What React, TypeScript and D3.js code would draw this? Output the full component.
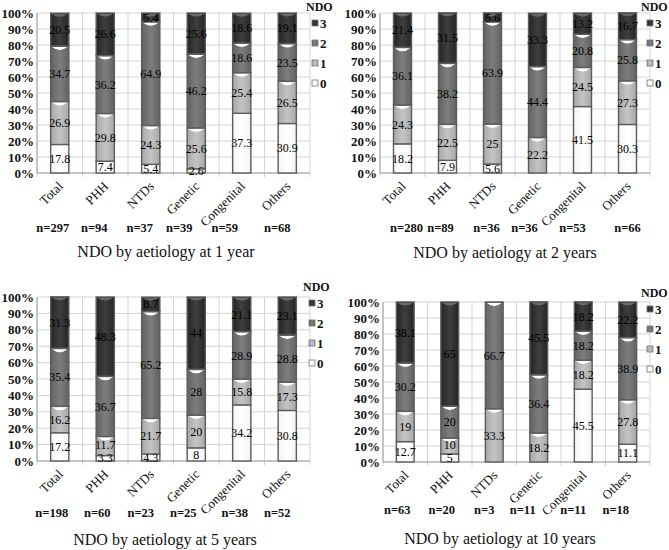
import React from 'react';
import * as d3 from 'd3';

const categories = ['Total', 'PHH', 'NTDs', 'Genetic', 'Congenital', 'Others'];
const ndoLevels = ['0', '1', '2', '3'];
const yTicks = [0, 10, 20, 30, 40, 50, 60, 70, 80, 90, 100];

// NDO by aetiology at 1 year
const y1Ndo0 = [17.8, 7.4, 5.4, 2.6, 37.3, 30.9];
const y1Ndo1 = [26.9, 29.8, 24.3, 25.6, 25.4, 26.5];
const y1Ndo2 = [34.7, 36.2, 64.9, 46.2, 18.6, 23.5];
const y1Ndo3 = [20.5, 26.6, 5.4, 25.6, 18.6, 19.1];
const y1N = [297, 94, 37, 39, 59, 68];

// NDO by aetiology at 2 years
const y2Ndo0 = [18.2, 7.9, 5.6, 0, 41.5, 30.3];
const y2Ndo1 = [24.3, 22.5, 25, 22.2, 24.5, 27.3];
const y2Ndo2 = [36.1, 38.2, 63.9, 44.4, 20.8, 25.8];
const y2Ndo3 = [21.4, 31.5, 5.6, 33.3, 13.2, 16.7];
const y2N = [280, 89, 36, 36, 53, 66];

// NDO by aetiology at 5 years
const y5Ndo0 = [17.2, 3.3, 4.3, 8, 34.2, 30.8];
const y5Ndo1 = [16.2, 11.7, 21.7, 20, 15.8, 17.3];
const y5Ndo2 = [35.4, 36.7, 65.2, 28, 28.9, 28.8];
const y5Ndo3 = [31.3, 48.3, 8.7, 44, 21.1, 23.1];
const y5N = [198, 60, 23, 25, 38, 52];

// NDO by aetiology at 10 years
const y10Ndo0 = [12.7, 5, 0, 0, 45.5, 11.1];
const y10Ndo1 = [19, 10, 33.3, 18.2, 18.2, 27.8];
const y10Ndo2 = [30.2, 20, 66.7, 36.4, 18.2, 38.9];
const y10Ndo3 = [38.1, 65, 0, 45.5, 18.2, 22.2];
const y10N = [63, 20, 3, 11, 11, 18];

const titles = [
  'NDO by aetiology at 1 year',
  'NDO by aetiology at 2 years',
  'NDO by aetiology at 5 years',
  'NDO by aetiology at 10 years',
];

const panelSeries = [
  [y1Ndo0, y1Ndo1, y1Ndo2, y1Ndo3],
  [y2Ndo0, y2Ndo1, y2Ndo2, y2Ndo3],
  [y5Ndo0, y5Ndo1, y5Ndo2, y5Ndo3],
  [y10Ndo0, y10Ndo1, y10Ndo2, y10Ndo3],
];
const panelN = [y1N, y2N, y5N, y10N];

// layout (pixels)
const layouts = [
  { left: 37, right: 310, top: 13, bottom: 173, legX: 306, legY: 7, nY: 232, titleX: 166, titleY: 257, nShift: [-7, -11, -11, -17, -17, -10] },
  { left: 380, right: 650, top: 13, bottom: 173, legX: 641, legY: 7, nY: 232, titleX: 505, titleY: 258, nShift: [4, -7, -6, -13, -10, 0] },
  { left: 37, right: 310, top: 297, bottom: 461, legX: 303, legY: 287, nY: 517, titleX: 165, titleY: 545, nShift: [-8, -8, -10, -13, -7, -10] },
  { left: 383, right: 650, top: 302, bottom: 462, legX: 641, legY: 293, nY: 514, titleX: 500, titleY: 544, nShift: [-8, -8, -10, -16, -10, -12] },
];

const FONT = '"Liberation Serif", "Times New Roman", serif';
const fills = ['url(#g0)', 'url(#g1)', 'url(#g2)', 'url(#g3)'];
const gradStops = [
  ['#f4f4f4', '#ffffff', '#f4f4f4'],
  ['#a8a8a8', '#c4c4c4', '#a8a8a8'],
  ['#626262', '#7e7e7e', '#626262'],
  ['#252525', '#3e3e3e', '#252525'],
];
const LABEL_GAP = 13.5;

function Panel({ idx }: { idx: number }) {
  const L = layouts[idx];
  const series = panelSeries[idx];
  const ns = panelN[idx];
  const x = d3.scaleBand<string>().domain(categories).range([L.left, L.right]).paddingInner(0.6).paddingOuter(0.3);
  const y = d3.scaleLinear().domain([0, 100]).range([L.bottom, L.top]);
  const step = x.step();
  const stack = d3.stack<number>().keys(ndoLevels.map((_, i) => String(i))).value((d, k) => series[+k][d]);
  const stacked = stack(categories.map((_, i) => i));
  const bw = x.bandwidth();

  // label positions, nudging a label up if it collides with the one below it
  const labels: { key: string; x: number; y: number; text: string }[] = [];
  categories.forEach((c, ci) => {
    let prevY: number | null = null;
    stacked.forEach((layer, li) => {
      const v = series[li][ci];
      if (!v) return;
      const seg = layer[ci];
      let ly = (y(seg[0]) + y(seg[1])) / 2;
      if (prevY !== null && prevY - ly < LABEL_GAP) ly = prevY - LABEL_GAP;
      prevY = ly;
      labels.push({ key: 'l' + li + '-' + ci, x: x(c)! + bw / 2, y: ly, text: String(v) });
    });
  });

  return (
    <g>
      {/* grid */}
      {yTicks.map((t) => (
        <line key={'h' + t} x1={L.left} x2={L.right} y1={y(t)} y2={y(t)} stroke="#d4d4d4" strokeWidth={1} />
      ))}
      {d3.range(categories.length + 1).map((i) => (
        <line key={'v' + i} x1={L.left + i * step} x2={L.left + i * step} y1={L.top} y2={L.bottom + 4} stroke="#d4d4d4" strokeWidth={1} />
      ))}
      <line x1={L.left} x2={L.left} y1={L.top} y2={L.bottom} stroke="#a0a0a0" />
      <line x1={L.left} x2={L.right} y1={L.bottom} y2={L.bottom} stroke="#a0a0a0" />
      {/* y tick labels */}
      {yTicks.map((t) => (
        <text key={'yt' + t} x={L.left - 3} y={y(t)} dy="0.35em" textAnchor="end" fontFamily={FONT} fontWeight="bold" fontSize={13} fill="#111">
          {t + '%'}
        </text>
      ))}
      {/* bars */}
      {stacked.map((layer, li) =>
        layer.map((seg, ci) => {
          const v = series[li][ci];
          if (!v) return null;
          const x0 = x(categories[ci])!;
          const yTop = y(seg[1]);
          const yBot = y(seg[0]);
          const h = yBot - yTop;
          const cx = x0 + bw / 2;
          return (
            <g key={'b' + li + '-' + ci}>
              <rect x={x0} y={yTop} width={bw} height={h} fill={fills[li]} stroke="#5c5c5c" strokeWidth={1.4} />
              {h > 4 && li < 3 && (
                <path
                  d={`M${x0 + 1.5},${yTop + 1} L${x0 + bw - 1.5},${yTop + 1} Q${cx},${yTop + 7} ${x0 + 1.5},${yTop + 1} Z`}
                  fill="#ffffff"
                />
              )}
              {h > 4 && li === 3 && (
                <path
                  d={`M${x0 + 1.5},${yTop + 1} L${x0 + bw - 1.5},${yTop + 1} Q${cx},${yTop + 6} ${x0 + 1.5},${yTop + 1} Z`}
                  fill="#6a6a6a"
                />
              )}
            </g>
          );
        })
      )}
      {/* value labels */}
      {labels.map((l) => (
        <text key={l.key} x={l.x} y={l.y} dy="0.35em" textAnchor="middle" fontFamily={FONT} fontSize={12} fill="#000">
          {l.text}
        </text>
      ))}
      {/* category labels */}
      {categories.map((c) => {
        const cx = x(c)! + bw / 2;
        return (
          <text key={'c' + c} transform={`translate(${cx + 4},${L.bottom + 14}) rotate(-45)`} textAnchor="end" fontFamily={FONT} fontSize={13} fill="#111">
            {c}
          </text>
        );
      })}
      {/* n labels */}
      {categories.map((c, i) => {
        const cx = x(c)! + bw / 2 + L.nShift[i];
        return (
          <text key={'n' + c} x={cx} y={L.nY} textAnchor="middle" fontFamily={FONT} fontWeight="bold" fontSize={12.5} fill="#111">
            {'n=' + ns[i]}
          </text>
        );
      })}
      {/* title */}
      <text x={L.titleX} y={L.titleY} textAnchor="middle" fontFamily={FONT} fontSize={16} fill="#111">
        {titles[idx]}
      </text>
      {/* legend */}
      <text x={L.legX} y={L.legY} dy="0.35em" fontFamily={FONT} fontWeight="bold" fontSize={12} fill="#111">
        NDO
      </text>
      {[3, 2, 1, 0].map((lv, k) => {
        const ly = L.legY + 16 + k * 20;
        return (
          <g key={'lg' + lv}>
            <rect x={L.legX + 6} y={ly - 3} width={6} height={6} fill={fills[lv]} stroke="#777" strokeWidth={0.8} />
            <text x={L.legX + 14} y={ly} dy="0.35em" fontFamily={FONT} fontWeight="bold" fontSize={13} fill="#111">
              {ndoLevels[lv]}
            </text>
          </g>
        );
      })}
    </g>
  );
}

export default function App() {
  return (
    <svg width={669} height={550} style={{ position: 'absolute', left: 0, top: 0, background: '#fff' }}>
      <defs>
        {gradStops.map((s, i) => (
          <linearGradient key={i} id={'g' + i} x1="0" x2="1" y1="0" y2="0">
            <stop offset="0%" stopColor={s[0]} />
            <stop offset="50%" stopColor={s[1]} />
            <stop offset="100%" stopColor={s[2]} />
          </linearGradient>
        ))}
      </defs>
      <rect width={669} height={550} fill="#fff" />
      {[0, 1, 2, 3].map((i) => (
        <Panel key={i} idx={i} />
      ))}
    </svg>
  );
}
